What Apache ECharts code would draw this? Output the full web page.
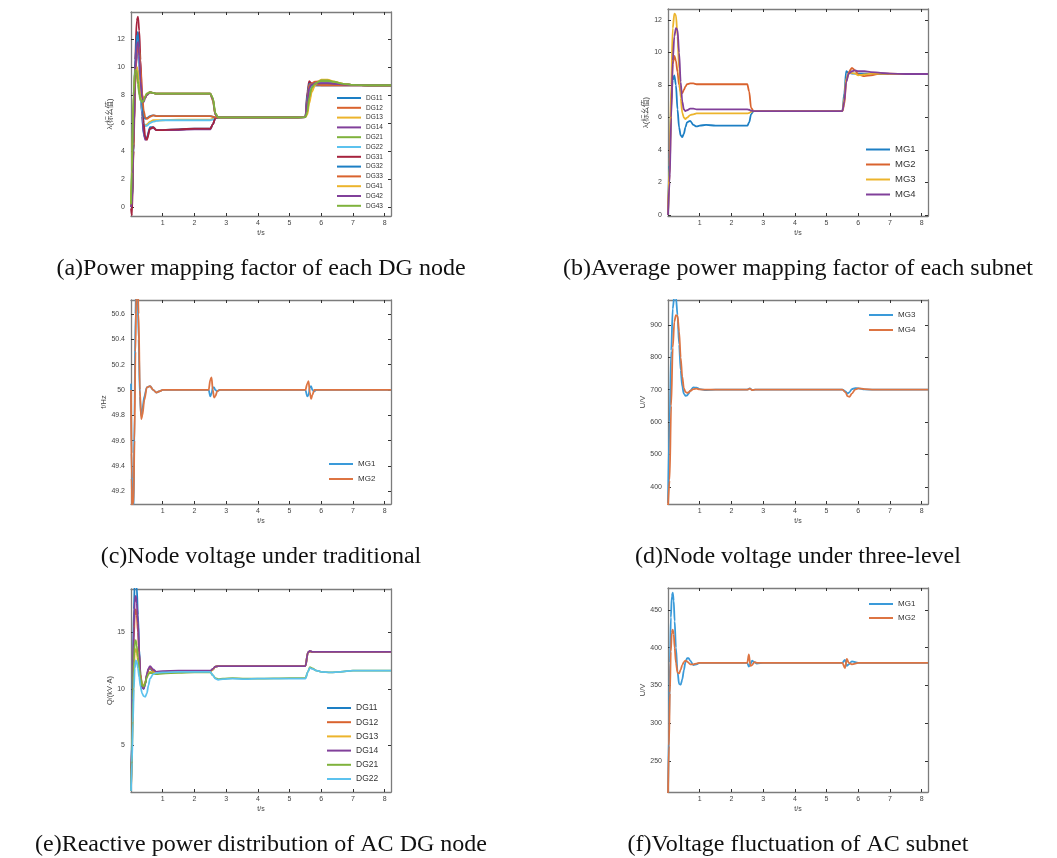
<!DOCTYPE html>
<html><head><meta charset="utf-8">
<script src="https://cdn.jsdelivr.net/npm/echarts@6/dist/echarts.min.js"></script>
<style>html,body{margin:0;padding:0;background:#fff}#c{width:1057px;height:858px}</style>
</head><body><div id="c"></div>
<script>
// ---------- data ----------
const xTicks = [1,2,3,4,5,6,7,8];
const tickA = [0,2,4,6,8,10,12];
const tickB = [0,2,4,6,8,10,12];
const tickC = [49.2,49.4,49.6,49.8,50,50.2,50.4,50.6];
const tickD = [400,500,600,700,800,900];
const tickE = [5,10,15];
const tickF = [250,300,350,400,450];

const captions = ["(a)Power mapping factor of each DG node","(b)Average power mapping factor of each subnet","(c)Node voltage under traditional","(d)Node voltage under three-level","(e)Reactive power distribution of AC DG node","(f)Voltage fluctuation of AC subnet"];
const yNames = ["λ(标幺值)","λ(标幺值)","f/Hz","U/V","Q/(kV·A)","U/V"];

// (a) power mapping factor of each DG node
const tA = [0,0.03,0.08,0.13,0.18,0.22,0.26,0.3,0.35,0.4,0.45,0.5,0.6,0.7,0.8,1.0,1.5,2.0,2.5,2.58,2.66,2.75,3.0,4.0,5.0,5.5,5.56,5.62,5.7,5.8,6.0,6.2,6.4,6.7,7.0,7.5,8.2];
const namesA = ["DG11","DG12","DG13","DG14","DG21","DG22","DG31","DG32","DG33","DG41","DG42","DG43"];
const DG11a = [0.2,0.1,4.5,9.5,12.0,12.5,11.5,9.0,6.5,5.2,4.9,5.0,5.7,5.7,5.5,5.5,5.55,5.6,5.6,5.9,6.35,6.4,6.4,6.4,6.4,6.42,7.8,8.7,8.8,8.8,8.85,8.85,8.8,8.75,8.72,8.7,8.7];
const DG12a = [0.1,0.3,5.0,9.0,10.8,11.2,10.5,9.2,8.0,7.7,7.8,8.0,8.2,8.15,8.1,8.1,8.1,8.1,8.1,7.6,6.6,6.4,6.4,6.4,6.4,6.42,7.5,8.6,8.85,8.95,9.0,8.9,8.8,8.75,8.72,8.7,8.7];
const DG13a = [0.2,1.5,6.0,9.5,10.0,9.8,9.0,8.0,6.8,6.0,5.8,5.9,6.1,6.2,6.2,6.2,6.25,6.25,6.25,6.3,6.38,6.4,6.4,6.4,6.4,6.42,6.8,7.6,8.3,8.7,9.0,9.05,8.95,8.8,8.72,8.7,8.7];
const DG14a = [0.0,0.5,5.0,9.0,10.8,11.0,10.2,8.5,6.5,5.3,4.8,4.9,5.6,5.65,5.5,5.5,5.5,5.55,5.55,5.9,6.35,6.4,6.4,6.4,6.4,6.42,7.2,8.2,8.7,8.85,8.9,8.88,8.8,8.75,8.72,8.7,8.7];
const DG21a = [0.3,3.0,8.0,9.9,9.6,8.8,8.0,7.6,7.5,7.6,7.9,8.1,8.2,8.15,8.1,8.1,8.1,8.1,8.1,7.8,6.7,6.4,6.4,6.4,6.4,6.42,7.0,8.0,8.6,8.8,9.0,9.0,8.9,8.8,8.72,8.7,8.7];
const DG22a = [0.0,1.0,6.5,10.5,11.8,11.5,10.0,8.2,6.8,6.0,5.8,5.8,6.0,6.1,6.15,6.2,6.2,6.2,6.2,6.25,6.36,6.4,6.4,6.4,6.4,6.42,7.4,8.4,8.75,8.8,8.85,8.85,8.8,8.75,8.72,8.7,8.7];
const DG31a = [-0.1,-0.6,4.0,10.5,13.3,13.6,12.6,10.5,7.8,6.0,5.0,4.8,5.6,5.7,5.5,5.5,5.55,5.6,5.6,5.9,6.35,6.4,6.4,6.4,6.4,6.42,8.2,9.0,8.8,8.7,8.7,8.7,8.7,8.7,8.7,8.7,8.7];
const DG32a = [0.1,0.2,4.8,10.0,12.2,12.3,11.2,9.3,7.4,6.5,6.3,6.35,6.5,6.55,6.5,6.5,6.5,6.5,6.5,6.45,6.4,6.4,6.4,6.4,6.4,6.42,8.0,8.8,8.75,8.7,8.7,8.7,8.7,8.7,8.7,8.7,8.7];
const DG33a = [0.0,0.5,4.0,8.5,11.0,11.5,11.3,10.0,8.2,6.9,6.4,6.3,6.45,6.55,6.5,6.5,6.5,6.5,6.5,6.45,6.4,6.4,6.4,6.4,6.4,6.42,7.6,8.7,8.8,8.75,8.7,8.7,8.7,8.7,8.7,8.7,8.7];
const DG41a = [0.2,2.0,7.5,9.8,10.0,9.5,8.7,8.0,7.6,7.6,7.9,8.1,8.2,8.15,8.1,8.1,8.1,8.1,8.1,7.7,6.6,6.4,6.4,6.4,6.4,6.42,6.6,7.4,8.2,8.7,9.1,9.1,8.95,8.8,8.72,8.7,8.7];
const DG42a = [0.0,0.3,4.5,9.5,11.5,11.8,10.8,9.0,7.8,7.5,7.8,8.0,8.2,8.15,8.1,8.1,8.1,8.1,8.1,7.7,6.6,6.4,6.4,6.4,6.4,6.42,7.5,8.5,8.75,8.8,8.85,8.85,8.8,8.75,8.72,8.7,8.7];
const DG43a = [0.2,2.5,8.0,9.8,9.7,9.0,8.2,7.7,7.5,7.6,7.9,8.1,8.2,8.15,8.1,8.1,8.1,8.1,8.1,7.8,6.7,6.4,6.4,6.4,6.4,6.42,6.8,7.8,8.5,8.8,9.05,9.05,8.95,8.8,8.72,8.7,8.7];

// (b) average power mapping factor of each subnet
const tB = [0,0.05,0.1,0.15,0.2,0.25,0.3,0.35,0.4,0.45,0.5,0.55,0.6,0.7,0.8,0.9,1.0,1.2,1.5,2.0,2.5,2.56,2.62,2.7,3.0,4.0,5.0,5.5,5.56,5.62,5.7,5.8,5.9,6.0,6.2,6.4,6.7,7.0,7.5,8.2];
const namesB = ["MG1","MG2","MG3","MG4"];
const MG1b = [0,3.5,7.0,8.3,8.6,8.0,6.5,5.4,4.9,4.8,5.0,5.4,5.7,5.8,5.55,5.45,5.5,5.55,5.5,5.5,5.5,5.7,6.2,6.4,6.4,6.4,6.4,6.4,7.5,8.85,8.75,8.7,8.7,8.7,8.7,8.7,8.68,8.68,8.68,8.68];
const MG2b = [0,2.5,6.5,9.3,9.8,9.5,8.8,8.0,7.6,7.5,7.7,7.9,8.05,8.1,8.1,8.05,8.05,8.05,8.05,8.05,8.05,7.6,6.6,6.4,6.4,6.4,6.4,6.4,6.8,8.2,8.8,9.05,8.9,8.65,8.55,8.6,8.7,8.7,8.68,8.68];
const MG3b = [0,3.0,8.0,11.5,12.4,12.3,11.0,9.0,7.2,6.3,6.0,5.9,6.0,6.15,6.2,6.25,6.25,6.25,6.25,6.25,6.25,6.28,6.35,6.4,6.4,6.4,6.4,6.4,7.2,8.4,8.7,8.75,8.7,8.6,8.65,8.7,8.7,8.68,8.68,8.68];
const MG4b = [0,2.0,6.0,9.5,11.0,11.5,11.4,10.0,8.2,7.0,6.5,6.4,6.45,6.55,6.55,6.5,6.5,6.5,6.5,6.5,6.5,6.48,6.42,6.4,6.4,6.4,6.4,6.4,7.0,8.2,8.7,8.85,8.9,8.85,8.85,8.8,8.75,8.7,8.68,8.68];

// (c) node voltage (frequency) under traditional control
const tC = [0,0.02,0.05,0.08,0.11,0.14,0.17,0.2,0.24,0.28,0.32,0.36,0.42,0.5,0.6,0.7,0.8,0.9,1.0,2.0,2.45,2.5,2.54,2.58,2.62,2.66,2.72,2.8,3.0,4.0,5.5,5.56,5.6,5.64,5.68,5.72,5.78,5.85,6.0,7.0,8.2];
const namesC = ["MG1","MG2"];
const MG1c = [50.05,49.5,48.9,49.0,49.8,50.6,51.0,50.9,50.4,49.95,49.8,49.85,49.95,50.02,50.03,50.0,49.98,49.99,50.0,50.0,50.0,49.95,49.97,50.02,50.02,50.0,49.99,50.0,50.0,50.0,50.0,49.95,49.96,50.02,50.03,50.0,49.99,50.0,50.0,50.0,50.0];
const MG2c = [50.0,49.3,48.8,49.1,49.6,50.3,50.8,51.0,50.6,50.0,49.77,49.8,49.92,50.02,50.03,50.0,49.98,49.99,50.0,50.0,50.0,50.08,50.1,50.0,49.94,49.95,49.99,50.0,50.0,50.0,50.0,50.05,50.07,49.98,49.93,49.96,50.0,50.0,50.0,50.0,50.0];

// (d) node voltage under three-level control
const tD = [0,0.05,0.1,0.15,0.2,0.25,0.3,0.35,0.4,0.45,0.5,0.55,0.6,0.65,0.7,0.8,0.9,1.0,1.2,1.5,2.0,2.5,2.58,2.65,2.75,3.0,4.0,5.5,5.6,5.66,5.72,5.8,5.9,6.0,6.2,6.5,7.0,8.2];
const namesD = ["MG3","MG4"];
const MG3d = [350,600,820,950,990,985,930,840,760,710,688,681,682,688,697,707,706,702,699,700,700,700,704,699,700,700,700,700,695,688,692,702,705,704,701,700,700,700];
const MG4d = [340,420,650,830,910,930,928,880,800,740,705,693,690,692,696,702,703,701,700,700,700,700,703,699,700,700,700,700,692,680,678,688,700,704,702,700,700,700];

// (e) reactive power distribution of AC DG node
const tE = [0,0.03,0.06,0.09,0.12,0.15,0.18,0.22,0.26,0.3,0.35,0.4,0.45,0.5,0.55,0.6,0.7,0.8,1.0,1.5,2.0,2.5,2.58,2.66,2.75,2.9,3.2,3.6,4.0,5.0,5.5,5.58,5.64,5.72,5.85,6.0,6.3,6.6,7.0,7.5,8.2];
const namesE = ["DG11","DG12","DG13","DG14","DG21","DG22"];
const DG11e = [1.0,6,12,17,19.5,20,19,16.5,13.5,11.2,10.2,10.0,10.4,11.2,11.7,11.8,11.5,11.4,11.5,11.55,11.55,11.55,11.7,11.95,12.0,12.0,12.0,12.0,12.0,12.0,12.0,13.2,13.3,13.25,13.25,13.25,13.25,13.25,13.25,13.25,13.25];
const DG12e = [1.0,5,10,14.5,16.5,17.0,16.5,15.0,13.0,11.3,10.3,10.1,10.5,11.2,11.7,11.9,11.6,11.5,11.5,11.55,11.55,11.55,11.7,11.95,12.0,12.0,12.0,12.0,12.0,12.0,12.0,13.2,13.3,13.25,13.25,13.25,13.25,13.25,13.25,13.25,13.25];
const DG13e = [1.0,4,8,11.5,13.2,13.5,13.2,12.5,11.8,11.0,10.4,10.3,10.6,11.1,11.4,11.5,11.45,11.4,11.45,11.5,11.5,11.5,11.7,11.95,12.0,12.0,12.0,12.0,12.0,12.0,12.0,13.2,13.3,13.25,13.25,13.25,13.25,13.25,13.25,13.25,13.25];
const DG14e = [1.0,5.5,11,15.5,17.8,18.2,17.6,15.8,13.2,11.0,10.1,10.0,10.5,11.3,11.8,12.0,11.7,11.5,11.55,11.6,11.6,11.6,11.75,11.95,12.0,12.0,12.0,12.0,12.0,12.0,12.0,13.2,13.35,13.25,13.25,13.25,13.25,13.25,13.25,13.25,13.25];
const DG21e = [1.0,4.5,9,12.5,14.0,14.3,13.8,12.8,11.8,10.9,10.3,10.2,10.5,11.0,11.3,11.4,11.35,11.3,11.35,11.4,11.45,11.45,11.2,10.95,10.85,10.9,10.95,10.9,10.9,10.95,10.95,11.5,11.9,11.8,11.6,11.5,11.45,11.5,11.6,11.6,11.6];
const DG22e = [1.0,3.5,7,10,11.8,12.5,12.4,11.8,11.0,10.2,9.6,9.35,9.3,9.6,10.3,10.9,11.3,11.4,11.45,11.5,11.5,11.5,11.2,10.9,10.8,10.85,10.9,10.85,10.9,10.9,10.9,11.5,11.85,11.75,11.6,11.5,11.45,11.5,11.6,11.6,11.6];

// (f) voltage fluctuation of AC subnet
const tF = [0,0.03,0.06,0.09,0.12,0.15,0.18,0.21,0.25,0.3,0.35,0.4,0.45,0.5,0.55,0.6,0.65,0.7,0.8,0.9,1.0,1.2,1.5,2.0,2.5,2.55,2.6,2.65,2.72,2.8,3.0,4.0,5.5,5.58,5.64,5.7,5.8,6.0,7.0,8.2];
const namesF = ["MG1","MG2"];
const MG1f = [205,290,380,440,468,473,462,435,400,368,352,351,358,370,381,386,386,383,377,378,380,380,380,380,380,375,378,383,381,379,380,380,380,384,376,378,382,380,380,380];
const MG2f = [205,270,340,395,420,424,418,400,380,367,366,371,377,381,383,382,380,378,378,379,380,380,380,380,380,391,376,377,381,380,380,380,380,373,385,380,378,380,380,380];

// ---------- styling ----------
const C = {blue:'#1d7fc4',orange:'#d9632e',yellow:'#ecb42c',purple:'#81409a',green:'#7fb23c',cyan:'#5cc2ee',red:'#a6233e'};
const colA = [C.blue,C.orange,C.yellow,C.purple,C.green,C.cyan,C.red,C.blue,C.orange,C.yellow,C.purple,C.green];
const colB = [C.blue,C.orange,C.yellow,C.purple];
const colC = ['#3a9ad9','#dd7442'];
const colE = [C.blue,C.orange,C.yellow,C.purple,C.green,C.cyan];

const grids = [
  {left:131,top:12,width:260,height:204},
  {left:668,top:9,width:260,height:207},
  {left:131,top:300,width:260,height:204},
  {left:668,top:300,width:260,height:204},
  {left:131,top:589,width:260,height:203},
  {left:668,top:588,width:260,height:204}
];
const yRange = [[-0.64,13.93],[-0.06,12.68],[49.1,50.71],[347,977],[0.9,18.8],[209,479]];
const yTicks = [tickA,tickB,tickC,tickD,tickE,tickF];
const yGap = [13,18,22,21,16,20];

const axisCol = '#7c7c7c', txtCol = '#444';
const xAxes = [], yAxes = [];
grids.forEach((g,i)=>{
  xAxes.push({gridIndex:i,type:'value',min:0,max:8.2,position:'bottom',
    axisLine:{show:true,onZero:false,lineStyle:{color:axisCol,width:1.3}},
    axisTick:{show:true,inside:true,length:3,customValues:xTicks,lineStyle:{color:'#333'}},
    axisLabel:{show:true,customValues:xTicks,fontSize:7,color:txtCol,margin:4,fontFamily:'Liberation Sans'},
    splitLine:{show:false},name:'t/s',nameLocation:'middle',nameGap:14,
    nameTextStyle:{fontSize:7,color:txtCol,fontFamily:'Liberation Sans'}});
  yAxes.push({gridIndex:i,type:'value',min:yRange[i][0],max:yRange[i][1],position:'left',
    axisLine:{show:true,onZero:false,lineStyle:{color:axisCol,width:1.3}},
    axisTick:{show:true,inside:true,length:3,customValues:yTicks[i],lineStyle:{color:'#333'}},
    axisLabel:{show:true,customValues:yTicks[i],fontSize:7,color:txtCol,margin:6,fontFamily:'Liberation Sans'},
    splitLine:{show:false},name:yNames[i],nameLocation:'middle',nameGap:yGap[i],
    nameTextStyle:{fontSize:7.5,color:txtCol,fontFamily:'Liberation Sans, Noto Sans CJK SC'}});
});
grids.forEach((g,i)=>{
  xAxes.push({gridIndex:i,type:'value',min:0,max:8.2,position:'top',
    axisLine:{show:true,onZero:false,lineStyle:{color:axisCol,width:1.3}},
    axisTick:{show:true,inside:true,length:3,customValues:xTicks,lineStyle:{color:'#333'}},
    axisLabel:{show:false},splitLine:{show:false}});
  yAxes.push({gridIndex:i,type:'value',min:yRange[i][0],max:yRange[i][1],position:'right',
    axisLine:{show:true,onZero:false,lineStyle:{color:axisCol,width:1.3}},
    axisTick:{show:true,inside:true,length:3,customValues:yTicks[i],lineStyle:{color:'#333'}},
    axisLabel:{show:false},splitLine:{show:false}});
});

const series = [];
function add(prefix, gi, t, names, arrs, cols){
  names.forEach((n,k)=>{
    series.push({type:'line',name:prefix+n,xAxisIndex:gi,yAxisIndex:gi,
      data:t.map((x,j)=>[x,arrs[k][j]]),symbol:'none',smooth:0.3,smoothMonotone:'x',
      lineStyle:{width:1.8,color:cols[k]},itemStyle:{color:cols[k]},emphasis:{disabled:true}});
  });
}
add('a:',0,tA,namesA,[DG11a,DG12a,DG13a,DG14a,DG21a,DG22a,DG31a,DG32a,DG33a,DG41a,DG42a,DG43a],colA);
add('b:',1,tB,namesB,[MG1b,MG2b,MG3b,MG4b],colB);
add('c:',2,tC,namesC,[MG1c,MG2c],colC);
add('d:',3,tD,namesD,[MG3d,MG4d],colC);
add('e:',4,tE,namesE,[DG11e,DG12e,DG13e,DG14e,DG21e,DG22e],colE);
add('f:',5,tF,namesF,[MG1f,MG2f],colC);

function lg(prefix,names,left,top,fs,lh,gap){
  return {orient:'vertical',left:left,top:top,padding:0,itemWidth:24,itemHeight:2,itemGap:gap,
    icon:'rect',data:names.map(n=>prefix+n),formatter:n=>n.slice(2),selectedMode:false,
    textStyle:{fontSize:fs,lineHeight:lh,color:'#333',fontFamily:'Liberation Sans'}};
}
const legends = [
  lg('a:',namesA,337,94,6.5,8,1.8),
  lg('b:',namesB,866,144,9.5,11,4),
  lg('c:',namesC,329,459,8,10,5),
  lg('d:',namesD,869,310,8,10,5),
  lg('e:',namesE,327,703,8.5,10,4.2),
  lg('f:',namesF,869,599,8,10,4)
];

const capY = [269,269,557,557,845,845];
const graphic = captions.map((s,i)=>({type:'text',
  x: grids[i].left + grids[i].width/2, y: capY[i],
  style:{text:s,font:'24px "Liberation Serif"',fill:'#111',textAlign:'center',textVerticalAlign:'middle'}}));

const chart = echarts.init(document.getElementById('c'),null,{renderer:'canvas'});
chart.setOption({animation:false,backgroundColor:'#fff',grid:grids,xAxis:xAxes,yAxis:yAxes,
  series:series,legend:legends,graphic:graphic,tooltip:{show:false}});
</script></body></html>
